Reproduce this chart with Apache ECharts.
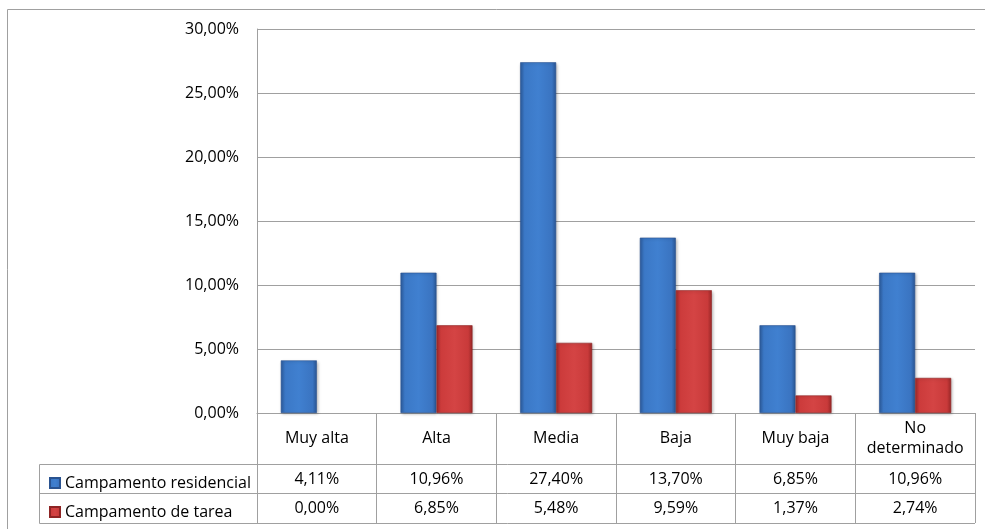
<!DOCTYPE html>
<html>
<head>
<meta charset="utf-8">
<script src="https://cdn.jsdelivr.net/npm/echarts@6/dist/echarts.min.js"></script>
<style>
html,body{margin:0;padding:0;background:#fff;}
#chart{width:985px;height:529px;}
</style>
</head>
<body>
<div id="chart"></div>
<script>
const categories = ['Muy alta', 'Alta', 'Media', 'Baja', 'Muy baja', 'No\ndeterminado'];
const seriesNames = ['Campamento residencial', 'Campamento de tarea'];
const residencial = [4.11, 10.96, 27.40, 13.70, 6.85, 10.96];
const tarea = [0.00, 6.85, 5.48, 9.59, 1.37, 2.74];
const yTicks = [0, 5, 10, 15, 20, 25, 30];

const fmt = v => v.toFixed(2).replace('.', ',') + '%';
const FONT = 'Open Sans';
const FS = 16;
const GRAY = '#a0a0a0';

const blueGrad = new echarts.graphic.LinearGradient(0, 0, 1, 0, [
  {offset: 0, color: '#2c5c9e'},
  {offset: 0.12, color: '#3b78c6'},
  {offset: 0.5, color: '#4080d0'},
  {offset: 0.88, color: '#3a74c1'},
  {offset: 1, color: '#2a5694'}
]);
const redGrad = new echarts.graphic.LinearGradient(0, 0, 1, 0, [
  {offset: 0, color: '#a02a2a'},
  {offset: 0.12, color: '#cc3b3b'},
  {offset: 0.5, color: '#d44444'},
  {offset: 0.88, color: '#c93a3a'},
  {offset: 1, color: '#9a2828'}
]);

const chart = echarts.init(document.getElementById('chart'), null, {renderer: 'canvas'});

const gridLeft = 257, gridRight = 975, gridBottomY = 413;
const row1 = 464, row2 = 493, row3 = 523;

const line = (x1, y1, x2, y2) => ({
  type: 'line', silent: true,
  shape: {x1, y1, x2, y2},
  style: {stroke: GRAY, lineWidth: 1}
});

const barData = arr => arr.map(v => v === 0
  ? {value: v, itemStyle: {opacity: 0}}
  : v);

chart.setOption({
  animation: false,
  textStyle: {fontFamily: FONT},
  grid: {left: gridLeft, right: 985 - gridRight, top: 29, bottom: 529 - gridBottomY, containLabel: false},
  legend: {
    orient: 'vertical', left: 44, top: 468,
    itemWidth: 10, itemHeight: 10, itemGap: 9,
    icon: 'rect',
    data: seriesNames,
    textStyle: {fontFamily: FONT, fontSize: FS, color: '#000', lineHeight: 20}
  },
  xAxis: [
    {
      type: 'category', data: categories, position: 'bottom',
      axisLine: {show: true, lineStyle: {color: GRAY, width: 1}},
      axisTick: {show: true, interval: 0, length: row3 - gridBottomY, lineStyle: {color: GRAY, width: 1}},
      axisLabel: {interval: 0, margin: 25, verticalAlign: 'middle', align: 'center',
        fontFamily: FONT, fontSize: FS, color: '#000', lineHeight: 20}
    },
    {
      type: 'category', data: residencial.map(fmt), position: 'bottom', offset: row1 - gridBottomY,
      axisLine: {show: false}, axisTick: {show: false},
      axisLabel: {interval: 0, margin: 15, verticalAlign: 'middle', align: 'center',
        fontFamily: FONT, fontSize: FS, color: '#000'}
    },
    {
      type: 'category', data: tarea.map(fmt), position: 'bottom', offset: row2 - gridBottomY,
      axisLine: {show: false}, axisTick: {show: false},
      axisLabel: {interval: 0, margin: 15, verticalAlign: 'middle', align: 'center',
        fontFamily: FONT, fontSize: FS, color: '#000'}
    }
  ],
  yAxis: {
    type: 'value', min: yTicks[0], max: yTicks[yTicks.length - 1], interval: 5,
    axisLine: {show: true, lineStyle: {color: GRAY, width: 1}},
    axisTick: {show: false},
    splitLine: {show: true, lineStyle: {color: GRAY, width: 1}},
    axisLabel: {margin: 18, formatter: v => fmt(v), fontFamily: FONT, fontSize: FS, color: '#000'}
  },
  series: [
    {
      name: seriesNames[0], type: 'bar', xAxisIndex: 0, data: barData(residencial),
      barWidth: 36, barGap: '0%',
      itemStyle: {color: blueGrad, borderColor: '#2a5390', borderWidth: 0.6,
        shadowColor: 'rgba(0,0,0,0.25)', shadowBlur: 3, shadowOffsetX: 1, shadowOffsetY: 1}
    },
    {
      name: seriesNames[1], type: 'bar', xAxisIndex: 0, data: barData(tarea),
      barWidth: 36, barGap: '0%',
      itemStyle: {color: redGrad, borderColor: '#8e2424', borderWidth: 0.6,
        shadowColor: 'rgba(0,0,0,0.25)', shadowBlur: 3, shadowOffsetX: 1, shadowOffsetY: 1}
    }
  ],
  graphic: [
    line(7.5, 9.5, 985, 9.5),
    line(7.5, 9.5, 7.5, 529),
    line(39.5, row1 + 0.5, gridRight, row1 + 0.5),
    line(39.5, row2 + 0.5, gridRight, row2 + 0.5),
    line(39.5, row3 + 0.5, gridRight, row3 + 0.5),
    line(39.5, row1 + 0.5, 39.5, row3 + 0.5)
  ]
});
</script>
</body>
</html>
